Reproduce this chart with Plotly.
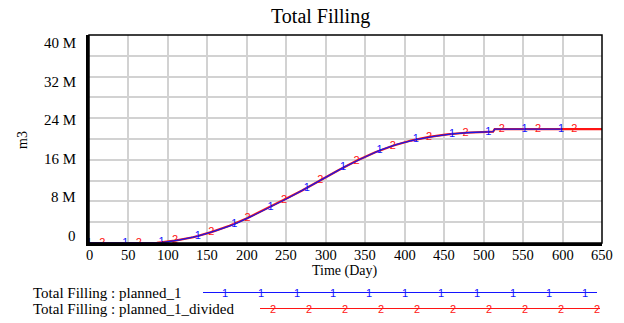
import plotly.graph_objects as go

W, H = 624, 323

# ---------------- data (values in m3) ----------------
blue_days = [0, 23, 46, 69, 92, 115, 138, 161, 184, 207, 230, 253, 276, 299,
             322, 345, 368, 391, 414, 437, 460, 483, 506, 512, 514, 529, 552,
             575, 598, 600]
blue_vals_m = [0, 0, 0, 0, 0.05, 0.6, 1.3, 2.4, 3.6, 5.2, 6.9, 8.7, 10.6, 12.5,
               14.5, 16.2, 17.8, 19.0, 19.9, 20.5, 21.0, 21.25, 21.35, 21.4,
               21.9, 21.9, 21.9, 21.9, 21.9, 21.9]
blue_mark_days = [0, 46, 92, 138, 184, 230, 276, 322, 368, 414, 460, 506, 552, 598]

red_days = [0, 17, 40, 63, 86, 109, 132, 155, 178, 201, 224, 247, 270, 293,
            316, 339, 362, 385, 408, 431, 454, 477, 500, 512, 514, 523, 546,
            569, 592, 615, 650]
red_vals_m = [0, 0, 0, 0, 0.02, 0.45, 1.1, 2.1, 3.3, 4.8, 6.5, 8.3, 10.1, 12.1,
              14.0, 15.8, 17.4, 18.7, 19.7, 20.4, 20.9, 21.2, 21.33, 21.4,
              21.9, 21.9, 21.9, 21.9, 21.9, 21.9, 21.9]
red_mark_days = [17, 63, 109, 155, 201, 247, 293, 339, 385, 431, 477, 523, 569, 615]

x_ticks = list(range(0, 651, 50))
y_tick_vals_m = [0, 8, 16, 24, 32, 40]
y_tick_text = ["0", "8 M", "16 M", "24 M", "32 M", "40 M"]

title_text = "Total Filling"
x_title = "Time (Day)"
y_title = "m3"
legend_labels = ["Total Filling : planned_1", "Total Filling : planned_1_divided"]

# ---------------- helpers ----------------
def px(x):
    return x / W

def py(y):
    return 1 - y / H

PLOT_L, PLOT_R, PLOT_T, PLOT_B = 89, 602, 35, 243
SERIF = "Liberation Serif"
BLUE = "#1414ff"
RED = "#ff1414"

blue_vals = [v * 1e6 for v in blue_vals_m]
red_vals = [v * 1e6 for v in red_vals_m]
blue_text = ["1" if d in blue_mark_days else "" for d in blue_days]
red_text = ["2" if d in red_mark_days else "" for d in red_days]

fig = go.Figure()
fig.add_trace(go.Scatter(
    x=red_days, y=red_vals, mode="lines+text", text=red_text,
    textposition="middle center",
    textfont=dict(family="Liberation Sans", size=11, color=RED),
    line=dict(color=RED, width=2.2), showlegend=False, cliponaxis=False))
fig.add_trace(go.Scatter(
    x=blue_days, y=blue_vals, mode="lines+text", text=blue_text,
    textposition="middle center",
    textfont=dict(family="Liberation Sans", size=11, color=BLUE),
    line=dict(color="#1a1ae6", width=1.3), showlegend=False,
    cliponaxis=False))

annotations = []

def note(x, y, text, size, anchor="center", angle=0, color="black",
         family=SERIF):
    annotations.append(dict(x=px(x), y=py(y), xref="paper", yref="paper",
                            text=text, showarrow=False, textangle=angle,
                            borderpad=0,
                            font=dict(family=family, size=size, color=color),
                            xanchor=anchor, yanchor="middle"))

# title and axis titles
note(320, 16, title_text, 20)
note(345, 271, x_title, 14)
note(22, 140, y_title, 14, angle=-90)

# y tick labels (slightly compressed like the original renderer)
LAB_TOP, LAB_BOT = 43.3, 236
for v, t in zip(y_tick_vals_m, y_tick_text):
    ypix = LAB_BOT - v / 40 * (LAB_BOT - LAB_TOP)
    note(77, ypix, t, 15, anchor="right")

# x tick labels
for v in x_ticks:
    xpix = PLOT_L + v / 650 * (PLOT_R - PLOT_L)
    note(xpix, 255, str(v), 14.5)

shapes = []
# legend rows
leg_rows = [
    dict(label=legend_labels[0], y=292.5, x0=203, x1=597, color=BLUE, mark="1",
         first=225, n=11),
    dict(label=legend_labels[1], y=308.5, x0=260, x1=600, color=RED, mark="2",
         first=273, n=10),
]
for r in leg_rows:
    note(32, r["y"], r["label"], 15, anchor="left")
    shapes.append(dict(type="line", xref="paper", yref="paper",
                       x0=px(r["x0"]), x1=px(r["x1"]), y0=py(r["y"]), y1=py(r["y"]),
                       line=dict(color=r["color"], width=1.2)))
    for k in range(r["n"]):
        note(r["first"] + 36 * k, r["y"], r["mark"], 11, color=r["color"],
             family="Liberation Sans")

# plot frame
shapes.append(dict(type="rect", xref="paper", yref="paper",
                   x0=px(PLOT_L), x1=px(PLOT_R), y0=py(PLOT_B), y1=py(PLOT_T),
                   line=dict(color="black", width=1.5), layer="above"))

fig.update_layout(
    width=W, height=H,
    margin=dict(l=0, r=0, t=0, b=0),
    template="none",
    paper_bgcolor="white", plot_bgcolor="white",
    showlegend=False,
    annotations=annotations,
    shapes=shapes,
    xaxis=dict(domain=[px(PLOT_L), px(PLOT_R)], range=[0, 650],
               dtick=50, tick0=0, showticklabels=False,
               showgrid=True, gridcolor="#d2d2d2", gridwidth=1.5,
               zeroline=False, showline=True, linecolor="black", linewidth=2.5,
               ticks="", automargin=False),
    yaxis=dict(domain=[py(PLOT_B), py(PLOT_T)], range=[0, 40e6],
               dtick=4e6, tick0=0, showticklabels=False,
               showgrid=True, gridcolor="#d2d2d2", gridwidth=1.5,
               zeroline=False, showline=True, linecolor="black", linewidth=2.5,
               ticks="", automargin=False),
)

fig.write_html("out.html")
